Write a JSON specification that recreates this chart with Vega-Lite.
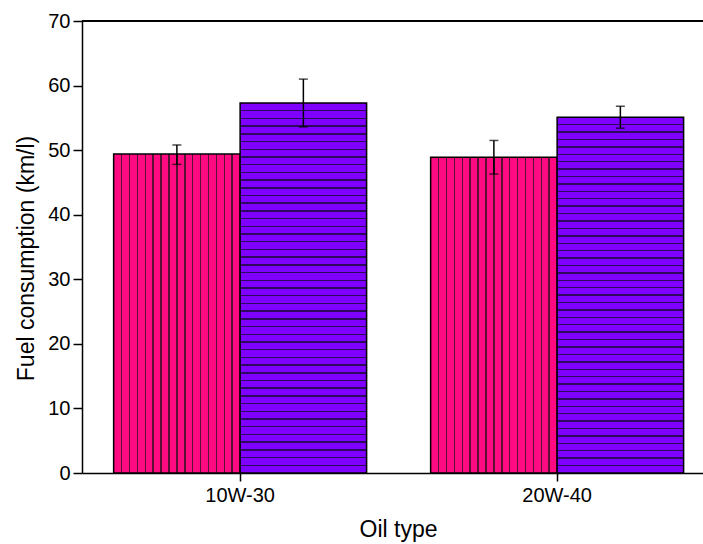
{
  "$schema": "https://vega.github.io/schema/vega-lite/v6.json",
  "autosize": {"type": "none"},
  "padding": {"left": 82, "top": 21, "right": 0, "bottom": 71},
  "width": 621,
  "height": 452,
  "config": {
    "font": "Liberation Sans",
    "view": {"stroke": null},
    "axis": {"labelColor": "black", "titleColor": "black", "titleFontWeight": "normal", "domainColor": "black", "domainWidth": 1.5, "tickColor": "black", "tickWidth": 1.5, "grid": false, "labelFontSize": 20, "titleFontSize": 23}
  },
  "data": {"values": [
    {"oil": "10W-30", "series": "S1", "value": 49.4, "lo": 47.8, "hi": 50.8},
    {"oil": "10W-30", "series": "S2", "value": 57.3, "lo": 53.6, "hi": 61.0},
    {"oil": "20W-40", "series": "S1", "value": 48.9, "lo": 46.3, "hi": 51.5},
    {"oil": "20W-40", "series": "S2", "value": 55.1, "lo": 53.4, "hi": 56.8}
  ]},
  "layer": [
    {
      "transform": [{"filter": "datum.series === 'S1'"}],
      "mark": {"type": "bar", "stroke": "black", "strokeWidth": 1.5,
        "fill": {"gradient": "linear", "x1": 0, "y1": 0, "x2": 1, "y2": 0, "stops": [
          {"offset": 0, "color": "#ff0a80"},
          {"offset": 0.0565, "color": "#ff0a80"}, {"offset": 0.0565, "color": "#5a1035"}, {"offset": 0.0685, "color": "#5a1035"}, {"offset": 0.0685, "color": "#ff0a80"},
          {"offset": 0.119, "color": "#ff0a80"}, {"offset": 0.119, "color": "#5a1035"}, {"offset": 0.131, "color": "#5a1035"}, {"offset": 0.131, "color": "#ff0a80"},
          {"offset": 0.1815, "color": "#ff0a80"}, {"offset": 0.1815, "color": "#5a1035"}, {"offset": 0.1935, "color": "#5a1035"}, {"offset": 0.1935, "color": "#ff0a80"},
          {"offset": 0.244, "color": "#ff0a80"}, {"offset": 0.244, "color": "#5a1035"}, {"offset": 0.256, "color": "#5a1035"}, {"offset": 0.256, "color": "#ff0a80"},
          {"offset": 0.3065, "color": "#ff0a80"}, {"offset": 0.3065, "color": "#5a1035"}, {"offset": 0.3185, "color": "#5a1035"}, {"offset": 0.3185, "color": "#ff0a80"},
          {"offset": 0.369, "color": "#ff0a80"}, {"offset": 0.369, "color": "#5a1035"}, {"offset": 0.381, "color": "#5a1035"}, {"offset": 0.381, "color": "#ff0a80"},
          {"offset": 0.4315, "color": "#ff0a80"}, {"offset": 0.4315, "color": "#5a1035"}, {"offset": 0.4435, "color": "#5a1035"}, {"offset": 0.4435, "color": "#ff0a80"},
          {"offset": 0.494, "color": "#ff0a80"}, {"offset": 0.494, "color": "#5a1035"}, {"offset": 0.506, "color": "#5a1035"}, {"offset": 0.506, "color": "#ff0a80"},
          {"offset": 0.5565, "color": "#ff0a80"}, {"offset": 0.5565, "color": "#5a1035"}, {"offset": 0.5685, "color": "#5a1035"}, {"offset": 0.5685, "color": "#ff0a80"},
          {"offset": 0.619, "color": "#ff0a80"}, {"offset": 0.619, "color": "#5a1035"}, {"offset": 0.631, "color": "#5a1035"}, {"offset": 0.631, "color": "#ff0a80"},
          {"offset": 0.6815, "color": "#ff0a80"}, {"offset": 0.6815, "color": "#5a1035"}, {"offset": 0.6935, "color": "#5a1035"}, {"offset": 0.6935, "color": "#ff0a80"},
          {"offset": 0.744, "color": "#ff0a80"}, {"offset": 0.744, "color": "#5a1035"}, {"offset": 0.756, "color": "#5a1035"}, {"offset": 0.756, "color": "#ff0a80"},
          {"offset": 0.8065, "color": "#ff0a80"}, {"offset": 0.8065, "color": "#5a1035"}, {"offset": 0.8185, "color": "#5a1035"}, {"offset": 0.8185, "color": "#ff0a80"},
          {"offset": 0.869, "color": "#ff0a80"}, {"offset": 0.869, "color": "#5a1035"}, {"offset": 0.881, "color": "#5a1035"}, {"offset": 0.881, "color": "#ff0a80"},
          {"offset": 0.9315, "color": "#ff0a80"}, {"offset": 0.9315, "color": "#5a1035"}, {"offset": 0.9435, "color": "#5a1035"}, {"offset": 0.9435, "color": "#ff0a80"},
          {"offset": 1, "color": "#ff0a80"}
        ]}
      },
      "encoding": {
        "x": {"field": "oil", "type": "nominal", "sort": null,
          "scale": {"paddingInner": 0.202, "paddingOuter": 0.0805, "align": 0.62},
          "axis": {"title": "Oil type", "labelAngle": 0, "tickSize": 8, "labelPadding": 4, "titlePadding": 13, "titleX": 316}},
        "xOffset": {"field": "series", "type": "nominal", "scale": {"paddingInner": 0, "paddingOuter": 0}},
        "y": {"field": "value", "type": "quantitative",
          "scale": {"domain": [0, 70], "nice": false, "zero": true},
          "axis": {"title": "Fuel consumption (km/l)",
            "values": [0, 5, 10, 15, 20, 25, 30, 35, 40, 45, 50, 55, 60, 65, 70],
            "labelExpr": "datum.value % 10 === 0 ? datum.label : ''",
            "tickSize": {"condition": {"test": "datum.value % 10 !== 0", "value": 5}, "value": 9},
            "labelPadding": 3, "titlePadding": 9, "titleY": 237}}
      }
    },
    {
      "transform": [{"filter": "datum.series === 'S2'"}],
      "mark": {"type": "bar", "stroke": "black", "strokeWidth": 1.5,
        "fill": {"gradient": "linear", "x1": 0, "y1": 0, "x2": 0, "y2": 1, "stops": [
          {"offset": 0, "color": "#8000ff"},
          {"offset": 0.0188, "color": "#8000ff"}, {"offset": 0.0188, "color": "#2d0a5e"}, {"offset": 0.0228, "color": "#2d0a5e"}, {"offset": 0.0228, "color": "#8000ff"},
          {"offset": 0.0397, "color": "#8000ff"}, {"offset": 0.0397, "color": "#2d0a5e"}, {"offset": 0.0437, "color": "#2d0a5e"}, {"offset": 0.0437, "color": "#8000ff"},
          {"offset": 0.0605, "color": "#8000ff"}, {"offset": 0.0605, "color": "#2d0a5e"}, {"offset": 0.0645, "color": "#2d0a5e"}, {"offset": 0.0645, "color": "#8000ff"},
          {"offset": 0.0813, "color": "#8000ff"}, {"offset": 0.0813, "color": "#2d0a5e"}, {"offset": 0.0853, "color": "#2d0a5e"}, {"offset": 0.0853, "color": "#8000ff"},
          {"offset": 0.1022, "color": "#8000ff"}, {"offset": 0.1022, "color": "#2d0a5e"}, {"offset": 0.1062, "color": "#2d0a5e"}, {"offset": 0.1062, "color": "#8000ff"},
          {"offset": 0.123, "color": "#8000ff"}, {"offset": 0.123, "color": "#2d0a5e"}, {"offset": 0.127, "color": "#2d0a5e"}, {"offset": 0.127, "color": "#8000ff"},
          {"offset": 0.1438, "color": "#8000ff"}, {"offset": 0.1438, "color": "#2d0a5e"}, {"offset": 0.1478, "color": "#2d0a5e"}, {"offset": 0.1478, "color": "#8000ff"},
          {"offset": 0.1647, "color": "#8000ff"}, {"offset": 0.1647, "color": "#2d0a5e"}, {"offset": 0.1687, "color": "#2d0a5e"}, {"offset": 0.1687, "color": "#8000ff"},
          {"offset": 0.1855, "color": "#8000ff"}, {"offset": 0.1855, "color": "#2d0a5e"}, {"offset": 0.1895, "color": "#2d0a5e"}, {"offset": 0.1895, "color": "#8000ff"},
          {"offset": 0.2063, "color": "#8000ff"}, {"offset": 0.2063, "color": "#2d0a5e"}, {"offset": 0.2103, "color": "#2d0a5e"}, {"offset": 0.2103, "color": "#8000ff"},
          {"offset": 0.2272, "color": "#8000ff"}, {"offset": 0.2272, "color": "#2d0a5e"}, {"offset": 0.2312, "color": "#2d0a5e"}, {"offset": 0.2312, "color": "#8000ff"},
          {"offset": 0.248, "color": "#8000ff"}, {"offset": 0.248, "color": "#2d0a5e"}, {"offset": 0.252, "color": "#2d0a5e"}, {"offset": 0.252, "color": "#8000ff"},
          {"offset": 0.2688, "color": "#8000ff"}, {"offset": 0.2688, "color": "#2d0a5e"}, {"offset": 0.2728, "color": "#2d0a5e"}, {"offset": 0.2728, "color": "#8000ff"},
          {"offset": 0.2897, "color": "#8000ff"}, {"offset": 0.2897, "color": "#2d0a5e"}, {"offset": 0.2937, "color": "#2d0a5e"}, {"offset": 0.2937, "color": "#8000ff"},
          {"offset": 0.3105, "color": "#8000ff"}, {"offset": 0.3105, "color": "#2d0a5e"}, {"offset": 0.3145, "color": "#2d0a5e"}, {"offset": 0.3145, "color": "#8000ff"},
          {"offset": 0.3313, "color": "#8000ff"}, {"offset": 0.3313, "color": "#2d0a5e"}, {"offset": 0.3353, "color": "#2d0a5e"}, {"offset": 0.3353, "color": "#8000ff"},
          {"offset": 0.3522, "color": "#8000ff"}, {"offset": 0.3522, "color": "#2d0a5e"}, {"offset": 0.3562, "color": "#2d0a5e"}, {"offset": 0.3562, "color": "#8000ff"},
          {"offset": 0.373, "color": "#8000ff"}, {"offset": 0.373, "color": "#2d0a5e"}, {"offset": 0.377, "color": "#2d0a5e"}, {"offset": 0.377, "color": "#8000ff"},
          {"offset": 0.3938, "color": "#8000ff"}, {"offset": 0.3938, "color": "#2d0a5e"}, {"offset": 0.3978, "color": "#2d0a5e"}, {"offset": 0.3978, "color": "#8000ff"},
          {"offset": 0.4147, "color": "#8000ff"}, {"offset": 0.4147, "color": "#2d0a5e"}, {"offset": 0.4187, "color": "#2d0a5e"}, {"offset": 0.4187, "color": "#8000ff"},
          {"offset": 0.4355, "color": "#8000ff"}, {"offset": 0.4355, "color": "#2d0a5e"}, {"offset": 0.4395, "color": "#2d0a5e"}, {"offset": 0.4395, "color": "#8000ff"},
          {"offset": 0.4563, "color": "#8000ff"}, {"offset": 0.4563, "color": "#2d0a5e"}, {"offset": 0.4603, "color": "#2d0a5e"}, {"offset": 0.4603, "color": "#8000ff"},
          {"offset": 0.4772, "color": "#8000ff"}, {"offset": 0.4772, "color": "#2d0a5e"}, {"offset": 0.4812, "color": "#2d0a5e"}, {"offset": 0.4812, "color": "#8000ff"},
          {"offset": 0.498, "color": "#8000ff"}, {"offset": 0.498, "color": "#2d0a5e"}, {"offset": 0.502, "color": "#2d0a5e"}, {"offset": 0.502, "color": "#8000ff"},
          {"offset": 0.5188, "color": "#8000ff"}, {"offset": 0.5188, "color": "#2d0a5e"}, {"offset": 0.5228, "color": "#2d0a5e"}, {"offset": 0.5228, "color": "#8000ff"},
          {"offset": 0.5397, "color": "#8000ff"}, {"offset": 0.5397, "color": "#2d0a5e"}, {"offset": 0.5437, "color": "#2d0a5e"}, {"offset": 0.5437, "color": "#8000ff"},
          {"offset": 0.5605, "color": "#8000ff"}, {"offset": 0.5605, "color": "#2d0a5e"}, {"offset": 0.5645, "color": "#2d0a5e"}, {"offset": 0.5645, "color": "#8000ff"},
          {"offset": 0.5813, "color": "#8000ff"}, {"offset": 0.5813, "color": "#2d0a5e"}, {"offset": 0.5853, "color": "#2d0a5e"}, {"offset": 0.5853, "color": "#8000ff"},
          {"offset": 0.6022, "color": "#8000ff"}, {"offset": 0.6022, "color": "#2d0a5e"}, {"offset": 0.6062, "color": "#2d0a5e"}, {"offset": 0.6062, "color": "#8000ff"},
          {"offset": 0.623, "color": "#8000ff"}, {"offset": 0.623, "color": "#2d0a5e"}, {"offset": 0.627, "color": "#2d0a5e"}, {"offset": 0.627, "color": "#8000ff"},
          {"offset": 0.6438, "color": "#8000ff"}, {"offset": 0.6438, "color": "#2d0a5e"}, {"offset": 0.6478, "color": "#2d0a5e"}, {"offset": 0.6478, "color": "#8000ff"},
          {"offset": 0.6647, "color": "#8000ff"}, {"offset": 0.6647, "color": "#2d0a5e"}, {"offset": 0.6687, "color": "#2d0a5e"}, {"offset": 0.6687, "color": "#8000ff"},
          {"offset": 0.6855, "color": "#8000ff"}, {"offset": 0.6855, "color": "#2d0a5e"}, {"offset": 0.6895, "color": "#2d0a5e"}, {"offset": 0.6895, "color": "#8000ff"},
          {"offset": 0.7063, "color": "#8000ff"}, {"offset": 0.7063, "color": "#2d0a5e"}, {"offset": 0.7103, "color": "#2d0a5e"}, {"offset": 0.7103, "color": "#8000ff"},
          {"offset": 0.7272, "color": "#8000ff"}, {"offset": 0.7272, "color": "#2d0a5e"}, {"offset": 0.7312, "color": "#2d0a5e"}, {"offset": 0.7312, "color": "#8000ff"},
          {"offset": 0.748, "color": "#8000ff"}, {"offset": 0.748, "color": "#2d0a5e"}, {"offset": 0.752, "color": "#2d0a5e"}, {"offset": 0.752, "color": "#8000ff"},
          {"offset": 0.7688, "color": "#8000ff"}, {"offset": 0.7688, "color": "#2d0a5e"}, {"offset": 0.7728, "color": "#2d0a5e"}, {"offset": 0.7728, "color": "#8000ff"},
          {"offset": 0.7897, "color": "#8000ff"}, {"offset": 0.7897, "color": "#2d0a5e"}, {"offset": 0.7937, "color": "#2d0a5e"}, {"offset": 0.7937, "color": "#8000ff"},
          {"offset": 0.8105, "color": "#8000ff"}, {"offset": 0.8105, "color": "#2d0a5e"}, {"offset": 0.8145, "color": "#2d0a5e"}, {"offset": 0.8145, "color": "#8000ff"},
          {"offset": 0.8313, "color": "#8000ff"}, {"offset": 0.8313, "color": "#2d0a5e"}, {"offset": 0.8353, "color": "#2d0a5e"}, {"offset": 0.8353, "color": "#8000ff"},
          {"offset": 0.8522, "color": "#8000ff"}, {"offset": 0.8522, "color": "#2d0a5e"}, {"offset": 0.8562, "color": "#2d0a5e"}, {"offset": 0.8562, "color": "#8000ff"},
          {"offset": 0.873, "color": "#8000ff"}, {"offset": 0.873, "color": "#2d0a5e"}, {"offset": 0.877, "color": "#2d0a5e"}, {"offset": 0.877, "color": "#8000ff"},
          {"offset": 0.8938, "color": "#8000ff"}, {"offset": 0.8938, "color": "#2d0a5e"}, {"offset": 0.8978, "color": "#2d0a5e"}, {"offset": 0.8978, "color": "#8000ff"},
          {"offset": 0.9147, "color": "#8000ff"}, {"offset": 0.9147, "color": "#2d0a5e"}, {"offset": 0.9187, "color": "#2d0a5e"}, {"offset": 0.9187, "color": "#8000ff"},
          {"offset": 0.9355, "color": "#8000ff"}, {"offset": 0.9355, "color": "#2d0a5e"}, {"offset": 0.9395, "color": "#2d0a5e"}, {"offset": 0.9395, "color": "#8000ff"},
          {"offset": 0.9563, "color": "#8000ff"}, {"offset": 0.9563, "color": "#2d0a5e"}, {"offset": 0.9603, "color": "#2d0a5e"}, {"offset": 0.9603, "color": "#8000ff"},
          {"offset": 0.9772, "color": "#8000ff"}, {"offset": 0.9772, "color": "#2d0a5e"}, {"offset": 0.9812, "color": "#2d0a5e"}, {"offset": 0.9812, "color": "#8000ff"},
          {"offset": 1, "color": "#8000ff"}
        ]}
      },
      "encoding": {
        "x": {"field": "oil", "type": "nominal", "sort": null},
        "xOffset": {"field": "series", "type": "nominal"},
        "y": {"field": "value", "type": "quantitative"}
      }
    },
    {
      "mark": {"type": "rule", "color": "black", "strokeWidth": 1.5},
      "encoding": {
        "x": {"field": "oil", "type": "nominal", "sort": null},
        "xOffset": {"field": "series", "type": "nominal"},
        "y": {"field": "lo", "type": "quantitative"},
        "y2": {"field": "hi"}
      }
    },
    {
      "mark": {"type": "tick", "color": "black", "thickness": 1.5, "size": 9},
      "encoding": {
        "x": {"field": "oil", "type": "nominal", "sort": null},
        "xOffset": {"field": "series", "type": "nominal"},
        "y": {"field": "lo", "type": "quantitative"}
      }
    },
    {
      "mark": {"type": "tick", "color": "black", "thickness": 1.5, "size": 9},
      "encoding": {
        "x": {"field": "oil", "type": "nominal", "sort": null},
        "xOffset": {"field": "series", "type": "nominal"},
        "y": {"field": "hi", "type": "quantitative"}
      }
    },
    {
      "mark": {"type": "rule", "color": "black", "strokeWidth": 1.5},
      "encoding": {
        "y": {"datum": 70, "type": "quantitative"}
      }
    }
  ]
}
